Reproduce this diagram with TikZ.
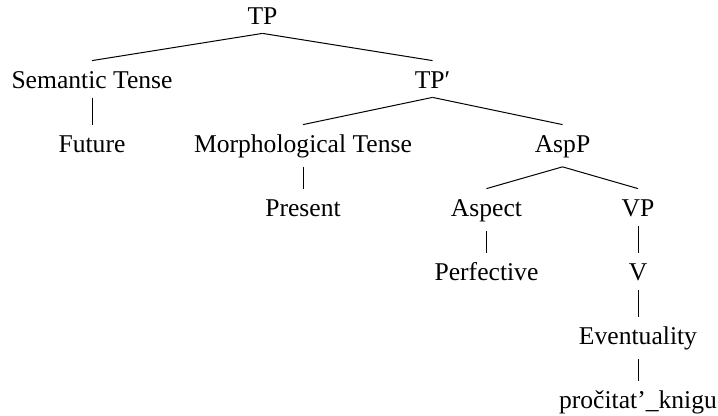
\documentclass[tikz,border=0pt]{standalone}
\usepackage{fontspec}
\setmainfont{Liberation Serif}
\begin{document}
\begin{tikzpicture}[x=0.5pt,y=-0.5pt,
  lbl/.style={anchor=base, inner xsep=1pt, inner ysep=4pt, text height=10pt,
              font=\fontsize{12.8pt}{15pt}\selectfont},
  branch/.style={line width=0.5pt}]
\useasboundingbox (0,0) rectangle (718,416);
% nodes placed at their baselines
\node[lbl] (tp)    at (262.5,25)  {TP};
\node[lbl] (sem)   at (92,89)     {Semantic Tense};
\node[lbl] (tpb)   at (432.5,89)  {TP′};
\node[lbl] (fut)   at (92,153)    {Future};
\node[lbl] (mor)   at (303,153)   {Morphological Tense};
\node[lbl] (asp)   at (562.5,153) {AspP};
\node[lbl] (pres)  at (303,217)   {Present};
\node[lbl] (aspc)  at (486.5,217) {Aspect};
\node[lbl] (vp)    at (638,217)   {VP};
\node[lbl] (perf)  at (486.5,281) {Perfective};
\node[lbl] (v)     at (638,281)   {V};
\node[lbl] (ev)    at (638,345)   {Eventuality};
\node[lbl] (verb)  at (638,409)   {pročitat’\_knigu};
% branches
\draw[branch] (tp.south)   -- (sem.north);
\draw[branch] (tp.south)   -- (tpb.north);
\draw[branch] (sem.south)  -- (fut.north);
\draw[branch] (tpb.south)  -- (mor.north);
\draw[branch] (tpb.south)  -- (asp.north);
\draw[branch] (mor.south)  -- (pres.north);
\draw[branch] (asp.south)  -- (aspc.north);
\draw[branch] (asp.south)  -- (vp.north);
\draw[branch] (aspc.south) -- (perf.north);
\draw[branch] (vp.south)   -- (v.north);
\draw[branch] (v.south)    -- (ev.north);
\draw[branch] (ev.south)   -- (verb.north);
\end{tikzpicture}
\end{document}
